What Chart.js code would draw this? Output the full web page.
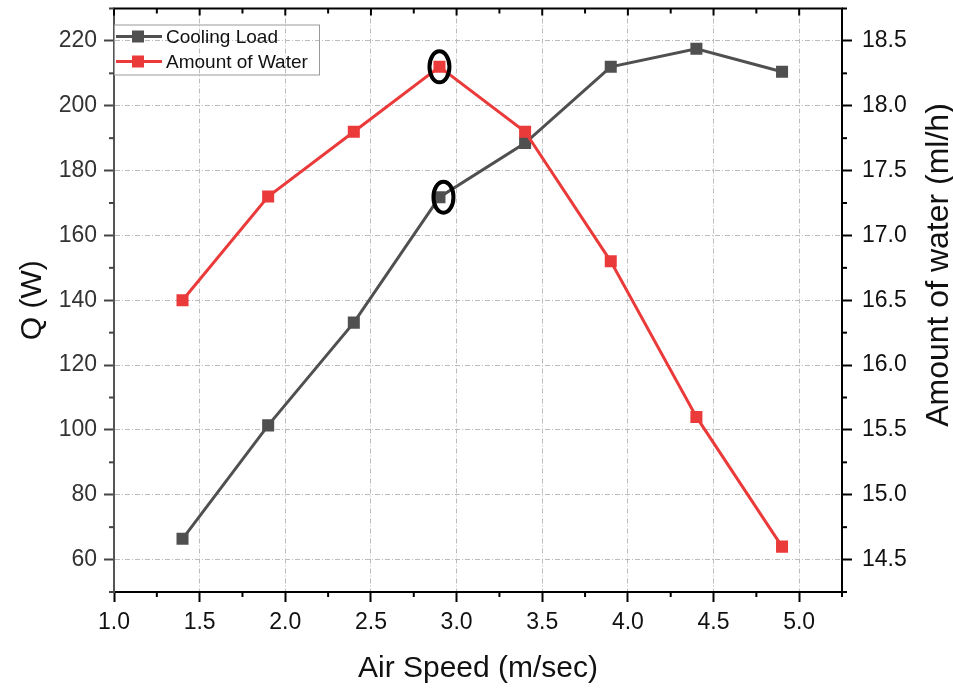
<!DOCTYPE html>
<html>
<head>
<meta charset="utf-8">
<script src="https://cdn.jsdelivr.net/npm/chart.js@4"></script>
<style>
  body { margin: 0; background: #fff; }
  #wrap { width: 953px; height: 689px; }
</style>
</head>
<body>
<div id="wrap"><canvas id="trendChart"></canvas></div>
<script>
// data
const airSpeed = [1.4, 1.9, 2.4, 2.9, 3.4, 3.9, 4.4, 4.9];
const coolingLoad = [66.4, 101.4, 133.1, 171.8, 188.5, 212.0, 217.6, 210.5];
const waterAmount = [16.5, 17.3, 17.8, 18.3, 17.8, 16.8, 15.6, 14.6];

// tick labels
const xTicks = [1.0, 1.5, 2.0, 2.5, 3.0, 3.5, 4.0, 4.5, 5.0];
const qTicks = [60, 80, 100, 120, 140, 160, 180, 200, 220];
const waterTicks = [14.5, 15.0, 15.5, 16.0, 16.5, 17.0, 17.5, 18.0, 18.5];

// points circled in the figure
const circledIndex = 3;

const FONT = 'Liberation Sans, Arial, sans-serif';
const GRAY = 'rgb(80, 80, 80)';
const RED = 'rgb(235, 58, 58)';

function minorOf(ticks, min, max) {
    const step = ticks[1] - ticks[0];
    const out = [];
    for (let v = ticks[0] - step / 2; v <= max + 1e-9; v += step) {
        if (v >= min - 1e-9) out.push(v);
    }
    return out;
}

// frame: top border, minor ticks, top axis ticks, right title, circles, legend
const decorPlugin = {
    id: 'decor',
    afterDatasetsDraw(chart) {
        const { ctx } = chart;
        ctx.save();
        ctx.strokeStyle = '#000';
        ctx.lineWidth = 4;
        const offsets = [[4, 0], [0, 0]];
        chart.data.datasets.forEach((ds, i) => {
            const pt = chart.getDatasetMeta(i).data[circledIndex];
            const ci = ds.label === 'Cooling Load' ? 0 : 1;
            ctx.beginPath();
            ctx.ellipse(pt.x + offsets[ci][0], pt.y + offsets[ci][1], 10, 15.5, 0, 0, Math.PI * 2);
            ctx.stroke();
        });
        ctx.restore();
    },
    afterDraw(chart) {
        const { ctx, chartArea: a, scales } = chart;
        const x = scales.x, y = scales.y, y1 = scales.y1;
        ctx.save();
        ctx.strokeStyle = '#000';
        ctx.lineWidth = 2;
        const seg = (x0, y0, x2, y2) => {
            ctx.beginPath(); ctx.moveTo(x0, y0); ctx.lineTo(x2, y2); ctx.stroke();
        };
        // top border
        seg(a.left - 1, a.top, a.right + 1, a.top);
        // minor ticks
        minorOf(xTicks, x.min, x.max).forEach(v => {
            const px = x.getPixelForValue(v);
            seg(px, a.bottom, px, a.bottom + 5);
            seg(px, a.top, px, a.top + 5);
        });
        xTicks.forEach(v => {
            const px = x.getPixelForValue(v);
            seg(px, a.top, px, a.top + 7);
        });
        ctx.strokeStyle = '#444';
        minorOf(qTicks, y.min, y.max).forEach(v => {
            const py = y.getPixelForValue(v);
            seg(a.left, py, a.left - 5, py);
        });
        ctx.strokeStyle = '#000';
        minorOf(waterTicks, y1.min, y1.max).forEach(v => {
            const py = y1.getPixelForValue(v);
            seg(a.right, py, a.right + 5, py);
        });

        // right axis title, reading bottom to top
        ctx.save();
        ctx.translate(939, 265);
        ctx.rotate(-Math.PI / 2);
        ctx.fillStyle = '#111';
        ctx.font = '32px ' + FONT;
        ctx.textAlign = 'center';
        ctx.textBaseline = 'middle';
        ctx.fillText('Amount of water (ml/h)', 0, 0);
        ctx.restore();

        // legend box inside the plot
        const bx = a.left, by = a.top + 16, bw = 205, bh = 50;
        ctx.strokeStyle = '#9a9a9a';
        ctx.lineWidth = 1;
        ctx.strokeRect(bx + 0.5, by + 0.5, bw, bh);
        const rows = [
            { label: 'Cooling Load', color: GRAY },
            { label: 'Amount of Water', color: RED }
        ];
        rows.forEach((r, i) => {
            const ry = by + 12 + i * 25;
            ctx.strokeStyle = r.color;
            ctx.lineWidth = 3;
            seg(bx + 2, ry, bx + 48, ry);
            ctx.fillStyle = r.color;
            ctx.fillRect(bx + 24 - 6, ry - 6, 12, 12);
            ctx.fillStyle = '#111';
            ctx.font = '19px ' + FONT;
            ctx.textAlign = 'left';
            ctx.textBaseline = 'middle';
            ctx.fillText(r.label, bx + 52, ry + 1);
        });
        ctx.restore();
    }
};

function fixTicks(values) {
    return scale => { scale.ticks = values.map(v => ({ value: v })); };
}

const gridDash = [5, 2, 1, 2];

new Chart(document.getElementById('trendChart').getContext('2d'), {
    type: 'line',
    data: {
        datasets: [
            {
                label: 'Cooling Load',
                data: airSpeed.map((v, i) => ({ x: v, y: coolingLoad[i] })),
                borderColor: GRAY,
                backgroundColor: GRAY,
                borderWidth: 3,
                pointStyle: 'rect',
                pointRadius: 8.5,
                pointBorderWidth: 0,
                yAxisID: 'y',
                order: 2
            },
            {
                label: 'Amount of Water',
                data: airSpeed.map((v, i) => ({ x: v, y: waterAmount[i] })),
                borderColor: RED,
                backgroundColor: RED,
                borderWidth: 3,
                pointStyle: 'rect',
                pointRadius: 8.5,
                pointBorderWidth: 0,
                yAxisID: 'y1',
                order: 1
            }
        ]
    },
    options: {
        responsive: true,
        maintainAspectRatio: false,
        animation: false,
        layout: { padding: { top: 6, left: 0, right: 0, bottom: 0 } },
        plugins: {
            legend: { display: false },
            tooltip: { enabled: false }
        },
        scales: {
            x: {
                type: 'linear',
                position: 'bottom',
                min: 1.0,
                max: 5.25,
                afterBuildTicks: fixTicks(xTicks),
                afterFit(scale) {
                    scale.height = 97;
                    scale.paddingLeft = 0;
                    scale.paddingRight = 0;
                },
                ticks: {
                    autoSkip: false,
                    maxRotation: 0,
                    padding: 7,
                    color: '#111',
                    font: { family: FONT, size: 23 },
                    callback: v => Number(v).toFixed(1)
                },
                grid: {
                    color: '#bcbcbc',
                    lineWidth: 1,
                    tickLength: 10,
                    tickColor: '#000',
                    tickWidth: 2,
                    tickBorderDash: []
                },
                border: { color: '#000', width: 2, dash: gridDash },
                title: {
                    display: true,
                    text: 'Air Speed (m/sec)',
                    color: '#111',
                    font: { family: FONT, size: 30, lineHeight: 1 },
                    padding: { top: 0, bottom: 5 }
                }
            },
            y: {
                type: 'linear',
                position: 'left',
                min: 50,
                max: 230,
                afterBuildTicks: fixTicks(qTicks),
                afterFit(scale) {
                    scale.width = 114;
                    scale.paddingTop = 0;
                    scale.paddingBottom = 0;
                },
                ticks: {
                    padding: 7,
                    color: '#333',
                    font: { family: FONT, size: 23 },
                    callback: v => String(v)
                },
                grid: {
                    color: '#bcbcbc',
                    lineWidth: 1,
                    tickLength: 10,
                    tickColor: '#444',
                    tickWidth: 2,
                    tickBorderDash: []
                },
                border: { color: '#555', width: 2, dash: gridDash },
                title: {
                    display: true,
                    text: 'Q (W)',
                    color: '#111',
                    font: { family: FONT, size: 30, lineHeight: 1 },
                    padding: { top: 18, bottom: 0 }
                }
            },
            y1: {
                type: 'linear',
                position: 'right',
                min: 14.25,
                max: 18.75,
                afterBuildTicks: fixTicks(waterTicks),
                afterFit(scale) {
                    scale.width = 111;
                    scale.paddingTop = 0;
                    scale.paddingBottom = 0;
                },
                ticks: {
                    padding: 10,
                    color: '#111',
                    font: { family: FONT, size: 23 },
                    callback: v => Number(v).toFixed(1)
                },
                grid: {
                    drawOnChartArea: false,
                    tickLength: 10,
                    tickColor: '#000',
                    tickWidth: 2,
                    tickBorderDash: []
                },
                border: { color: '#000', width: 2 }
            }
        }
    },
    plugins: [decorPlugin]
});
</script>
</body>
</html>
